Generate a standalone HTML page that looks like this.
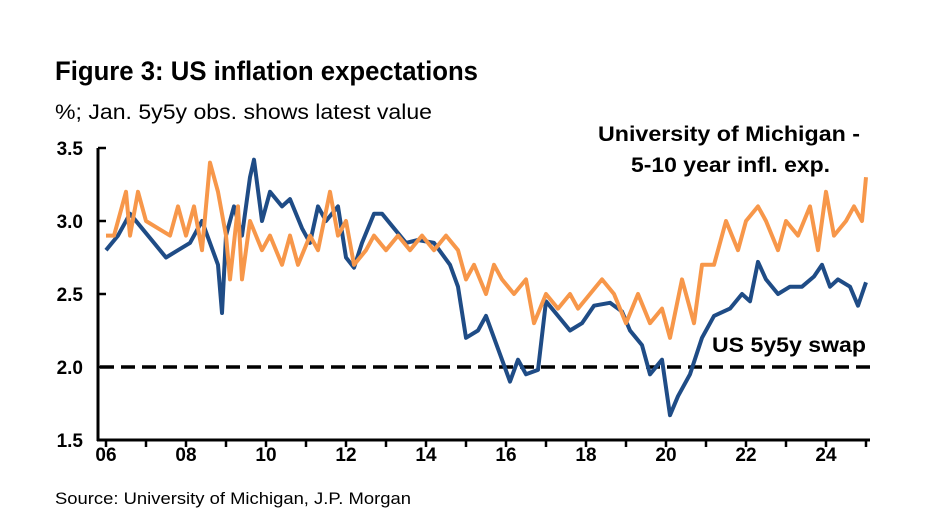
<!DOCTYPE html>
<html><head><meta charset="utf-8"><style>
html,body{margin:0;padding:0;background:#fff;}
svg{display:block;font-family:"Liberation Sans",Arial,sans-serif;}
</style></head><body>
<svg id="chart" width="945" height="522" viewBox="0 0 945 522">
<rect width="945" height="522" fill="#fff"/>
<text x="55" y="80" font-size="27" font-weight="bold" textLength="423" lengthAdjust="spacingAndGlyphs">Figure 3: US inflation expectations</text>
<text x="55" y="119" font-size="21" textLength="377" lengthAdjust="spacingAndGlyphs">%; Jan. 5y5y obs. shows latest value</text>
<g id="yaxis"></g>
<g id="xaxis"></g>
<g id="series"></g>
<text x="860" y="141" font-size="21" font-weight="bold" text-anchor="end" textLength="262" lengthAdjust="spacingAndGlyphs">University of Michigan -</text>
<text x="830" y="172" font-size="21" font-weight="bold" text-anchor="end" textLength="199" lengthAdjust="spacingAndGlyphs">5-10 year infl. exp.</text>
<text x="712" y="352" font-size="21" font-weight="bold" textLength="154" lengthAdjust="spacingAndGlyphs">US 5y5y swap</text>
<text x="55" y="504" font-size="17" textLength="356" lengthAdjust="spacingAndGlyphs">Source: University of Michigan, J.P. Morgan</text>
</svg>
<script>
const yTicks=[1.5,2.0,2.5,3.0,3.5];
const yTickLabels=["1.5","2.0","2.5","3.0","3.5"];
const xLabelYears=[2006,2008,2010,2012,2014,2016,2018,2020,2022,2024];
const xLabels=["06","08","10","12","14","16","18","20","22","24"];
const refLevel=2.0;
const swapT=[2006.0,2006.3,2006.6,2006.9,2007.2,2007.5,2007.8,2008.1,2008.4,2008.6,2008.8,2008.9,2009.0,2009.2,2009.4,2009.6,2009.7,2009.9,2010.1,2010.4,2010.6,2010.9,2011.1,2011.3,2011.5,2011.8,2012.0,2012.2,2012.4,2012.7,2012.9,2013.2,2013.5,2013.8,2014.2,2014.6,2014.8,2015.0,2015.3,2015.5,2015.7,2015.9,2016.1,2016.3,2016.5,2016.8,2017.0,2017.3,2017.6,2017.9,2018.2,2018.6,2018.9,2019.1,2019.4,2019.6,2019.9,2020.1,2020.3,2020.6,2020.9,2021.2,2021.6,2021.9,2022.1,2022.3,2022.5,2022.8,2023.1,2023.4,2023.7,2023.9,2024.1,2024.3,2024.6,2024.8,2024.9,2025.0];
const swapV=[2.8,2.9,3.05,2.95,2.85,2.75,2.8,2.85,3.0,2.85,2.7,2.37,2.9,3.1,2.9,3.3,3.42,3.0,3.2,3.1,3.15,2.95,2.85,3.1,3.0,3.1,2.75,2.68,2.85,3.05,3.05,2.95,2.85,2.87,2.85,2.7,2.55,2.2,2.25,2.35,2.2,2.05,1.9,2.05,1.95,1.98,2.45,2.35,2.25,2.3,2.42,2.44,2.38,2.25,2.15,1.95,2.05,1.67,1.8,1.95,2.2,2.35,2.4,2.5,2.45,2.72,2.6,2.5,2.55,2.55,2.62,2.7,2.55,2.6,2.55,2.42,2.5,2.58];
const umT=[2006.0,2006.2,2006.5,2006.6,2006.8,2007.0,2007.3,2007.6,2007.8,2008.0,2008.2,2008.4,2008.6,2008.8,2009.0,2009.1,2009.3,2009.4,2009.6,2009.9,2010.1,2010.4,2010.6,2010.8,2011.1,2011.3,2011.6,2011.8,2012.0,2012.2,2012.5,2012.7,2013.0,2013.3,2013.6,2013.9,2014.2,2014.5,2014.8,2015.0,2015.2,2015.5,2015.7,2015.9,2016.2,2016.5,2016.7,2017.0,2017.3,2017.6,2017.8,2018.1,2018.4,2018.7,2019.0,2019.3,2019.6,2019.9,2020.1,2020.4,2020.7,2020.9,2021.2,2021.5,2021.8,2022.0,2022.3,2022.5,2022.8,2023.0,2023.3,2023.6,2023.8,2024.0,2024.2,2024.5,2024.7,2024.9,2025.0];
const umV=[2.9,2.9,3.2,2.9,3.2,3.0,2.95,2.9,3.1,2.9,3.1,2.8,3.4,3.2,2.9,2.6,3.1,2.6,3.0,2.8,2.9,2.7,2.9,2.7,2.9,2.8,3.2,2.9,3.0,2.7,2.8,2.9,2.8,2.9,2.8,2.9,2.8,2.9,2.8,2.6,2.7,2.5,2.7,2.6,2.5,2.6,2.3,2.5,2.4,2.5,2.4,2.5,2.6,2.5,2.3,2.5,2.3,2.4,2.2,2.6,2.3,2.7,2.7,3.0,2.8,3.0,3.1,3.0,2.8,3.0,2.9,3.1,2.8,3.2,2.9,3.0,3.1,3.0,3.3];

const NS="http://www.w3.org/2000/svg";
const X=t=>106+40*(t-2006);
const Y=v=>367-(v-2)*146;
function mk(tag,attrs,parent){const e=document.createElementNS(NS,tag);for(const k in attrs)e.setAttribute(k,attrs[k]);parent.appendChild(e);return e;}
const ya=document.getElementById('yaxis'),xa=document.getElementById('xaxis'),sg=document.getElementById('series');
mk('line',{x1:98,y1:Y(3.5),x2:98,y2:Y(1.5)+1,stroke:'#000','stroke-width':3},ya);
yTicks.forEach((v,i)=>{
  const tk=mk('line',{x1:98,y1:Y(v),x2:106,y2:Y(v),stroke:'#000','stroke-width':2.5},ya);
  
  
  const t=mk('text',{x:83,y:Y(v)+7,'font-size':19,'font-weight':'bold','text-anchor':'end'},ya);
  t.textContent=yTickLabels[i];
  
  
});
mk('line',{x1:97,y1:Y(1.5),x2:870,y2:Y(1.5),stroke:'#000','stroke-width':3},xa);
for(let yr=2006;yr<=2025;yr++){
  const tk=mk('line',{x1:X(yr),y1:Y(1.5),x2:X(yr),y2:Y(1.5)+7,stroke:'#000','stroke-width':2.5},xa);
  
  
}
xLabelYears.forEach((yr,i)=>{
  const t=mk('text',{x:X(yr),y:Y(1.5)+21,'font-size':19,'font-weight':'bold','text-anchor':'middle'},xa);
  t.textContent=xLabels[i];
  
  
});
const ref=mk('line',{x1:100,y1:Y(refLevel),x2:870,y2:Y(refLevel),stroke:'#000','stroke-width':3.5,'stroke-dasharray':'14 7'},sg);


function line(ts,vs,color,name){
  const d=ts.map((t,i)=>(i?'L':'M')+X(t).toFixed(1)+','+Y(vs[i]).toFixed(1)).join('');
  const p=mk('path',{d:d,fill:'none',stroke:color,'stroke-width':4,'stroke-linejoin':'round'},sg);
  
  
}
line(swapT,swapV,'#1f4c86','us-5y5y-swap-line');
line(umT,umV,'#f7974a','michigan-inflation-expectations-line');
</script>
</body></html>
